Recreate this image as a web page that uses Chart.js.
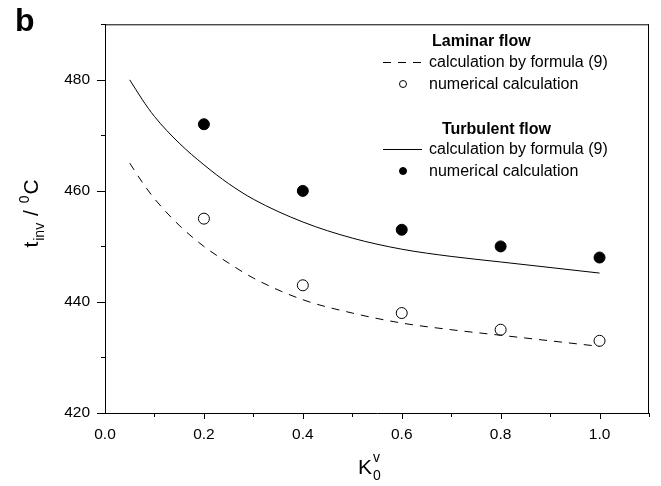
<!DOCTYPE html>
<html>
<head>
<meta charset="utf-8">
<script src="https://cdn.jsdelivr.net/npm/chart.js@4"></script>
<style>
  html, body { margin: 0; padding: 0; background: #fff; }
  #wrap { width: 661px; height: 486px; }
</style>
</head>
<body>
<div id="wrap"><canvas id="myCanvas" width="661" height="486"></canvas></div>
<script>
// numerical points
var pointX = [0.2, 0.4, 0.6, 0.8, 1.0];
var laminarNumerical = [455, 443, 438, 435, 433];
var turbulentNumerical = [472, 460, 453, 450, 448];

// curves from formula (9)
var formulaX = [0.05, 0.075, 0.1, 0.15, 0.2, 0.25, 0.3, 0.4, 0.5, 0.6, 0.7, 0.8, 0.9, 1.0];
var laminarFormula = [465, 461.6, 458.6, 453.8, 450, 447, 444.3, 440.4, 438, 436.2, 435, 434, 433, 432];
var turbulentFormula = [480, 476.5, 473.4, 468.6, 464.7, 461.3, 458.5, 454.4, 451.5, 449.5, 448.2, 447.2, 446.2, 445.2];

var xTicks = [0.1, 0.2, 0.3, 0.4, 0.5, 0.6, 0.7, 0.8, 0.9, 1.0, 1.1];
var yTicks = [420, 430, 440, 450, 460, 470, 480, 490];

var FONT = "'Liberation Sans', Arial, sans-serif";

function pts(xs, ys) {
  return xs.map(function(x, i) { return {x: x, y: ys[i]}; });
}

var data = {
  datasets: [
    {
      label: 'Laminar calculation by formula (9)',
      data: pts(formulaX, laminarFormula),
      borderColor: '#000',
      borderWidth: 1,
      borderDash: [8, 7],
      pointRadius: 0,
      cubicInterpolationMode: 'monotone',
      fill: false
    }, {
      label: 'Laminar numerical calculation',
      data: pts(pointX, laminarNumerical),
      showLine: false,
      pointRadius: 5.5,
      pointBackgroundColor: '#fff',
      pointBorderColor: '#000',
      pointBorderWidth: 1
    }, {
      label: 'Turbulent calculation by formula (9)',
      data: pts(formulaX, turbulentFormula),
      borderColor: '#000',
      borderWidth: 1,
      pointRadius: 0,
      cubicInterpolationMode: 'monotone',
      fill: false
    }, {
      label: 'Turbulent numerical calculation',
      data: pts(pointX, turbulentNumerical),
      showLine: false,
      pointRadius: 5.5,
      pointBackgroundColor: '#000',
      pointBorderColor: '#000',
      pointBorderWidth: 1
    }
  ]
};

// frame, ticks, titles and the grouped legend
var decor = {
  id: 'decor',
  afterDraw: function(chart) {
    var c = chart.ctx, a = chart.chartArea;
    var xs = chart.scales.x, ys = chart.scales.y;
    c.save();
    c.strokeStyle = '#000';
    c.lineWidth = 1;
    c.beginPath();
    c.moveTo(a.left, a.top + 0.5); c.lineTo(a.right, a.top + 0.5);
    c.moveTo(a.right - 0.5, a.top); c.lineTo(a.right - 0.5, a.bottom);
    // ticks
    xTicks.forEach(function(v) {
      var px = Math.round(xs.getPixelForValue(v)) + 0.5;
      var major = Math.round(v * 10) % 2 === 0;
      c.moveTo(px, a.bottom); c.lineTo(px, a.bottom + (major ? 6 : 4));
    });
    yTicks.forEach(function(v) {
      var py = Math.round(ys.getPixelForValue(v)) + 0.5;
      var major = v % 20 === 0;
      c.moveTo(a.left, py); c.lineTo(a.left - (major ? 8 : 4), py);
    });
    c.stroke();

    c.fillStyle = '#000';
    // panel letter
    c.font = 'bold 32px ' + FONT;
    c.textBaseline = 'alphabetic';
    c.textAlign = 'left';
    c.fillText('b', 15, 31);

    // x title K_0^v
    c.font = '21px ' + FONT;
    c.fillText('K', 358, 474);
    var kw = c.measureText('K').width;
    c.font = '14px ' + FONT;
    c.fillText('v', 358 + kw + 1, 462);
    c.fillText('0', 358 + kw + 1, 480);

    // y title t_inv / 0C
    var parts = [
      {t: 't', f: 21, dy: 0},
      {t: 'inv', f: 14, dy: 6},
      {t: ' / ', f: 21, dy: 0},
      {t: '0', f: 14, dy: -9},
      {t: 'C', f: 21, dy: 0}
    ];
    var total = 0;
    parts.forEach(function(p) {
      c.font = p.f + 'px ' + FONT;
      p.w = c.measureText(p.t).width;
      total += p.w + 1;
    });
    c.save();
    c.translate(38, 213 + total / 2);
    c.rotate(-Math.PI / 2);
    var x = 0;
    parts.forEach(function(p) {
      c.font = p.f + 'px ' + FONT;
      c.fillText(p.t, x, p.dy);
      x += p.w + 1;
    });
    c.restore();

    // legend
    var ds = chart.data.datasets;
    c.textBaseline = 'middle';
    c.font = 'bold 16px ' + FONT;
    c.fillText('Laminar flow', 432, 42);
    c.fillText('Turbulent flow', 442, 130);
    c.font = '16px ' + FONT;
    var rows = [
      {ds: ds[0], y: 62, text: 'calculation by formula (9)'},
      {ds: ds[1], y: 84, text: 'numerical calculation'},
      {ds: ds[2], y: 149, text: 'calculation by formula (9)'},
      {ds: ds[3], y: 171, text: 'numerical calculation'}
    ];
    rows.forEach(function(r) {
      if (r.ds.showLine === false) {
        c.beginPath();
        c.arc(403, r.y, 3.5, 0, Math.PI * 2);
        c.fillStyle = r.ds.pointBackgroundColor;
        c.fill();
        c.strokeStyle = r.ds.pointBorderColor;
        c.stroke();
      } else {
        c.beginPath();
        c.setLineDash(r.ds.borderDash || []);
        c.strokeStyle = r.ds.borderColor;
        c.moveTo(383, r.y + 0.5); c.lineTo(422, r.y + 0.5);
        c.stroke();
        c.setLineDash([]);
      }
      c.fillStyle = '#000';
      c.fillText(r.text, 429, r.y + 1);
    });
    c.restore();
  }
};

var options = {
  responsive: false,
  animation: false,
  layout: { padding: { top: 10, right: 8, left: 0, bottom: 0 } },
  plugins: { legend: { display: false }, tooltip: { enabled: false } },
  scales: {
    x: {
      type: 'linear',
      min: 0,
      max: 1.1,
      afterFit: function(s) { s.height = 73; },
      grid: { display: false, drawTicks: false },
      border: { display: true, color: '#000', width: 1 },
      ticks: {
        stepSize: 0.1,
        padding: 12,
        color: '#000',
        font: { family: FONT, size: 15.5 },
        maxRotation: 0,
        autoSkip: false,
        callback: function(v) {
          var n = Math.round(v * 10);
          return (n % 2 === 0 && n <= 10) ? (n / 10).toFixed(1) : '';
        }
      }
    },
    y: {
      min: 420,
      max: 490,
      afterFit: function(s) { s.width = 105; },
      grid: { display: false, drawTicks: false },
      border: { display: true, color: '#000', width: 1 },
      ticks: {
        stepSize: 10,
        padding: 15,
        color: '#000',
        font: { family: FONT, size: 15.5 },
        autoSkip: false,
        callback: function(v) { return v % 20 === 0 ? v : ''; }
      }
    }
  }
};

var chart = new Chart(document.getElementById('myCanvas'), {
  type: 'line',
  data: data,
  options: options,
  plugins: [decor]
});
</script>
</body>
</html>
